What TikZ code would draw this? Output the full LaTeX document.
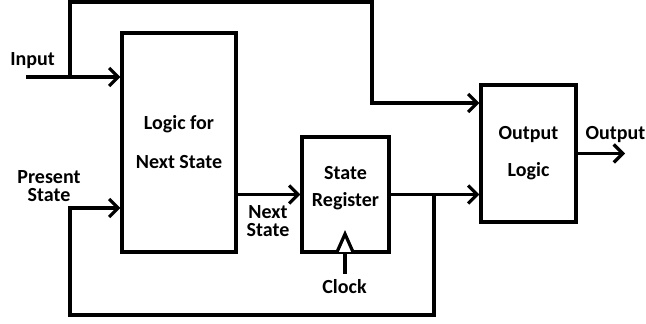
\documentclass[tikz,border=0pt]{standalone}
\usepackage{fontspec}
\setmainfont{Carlito}
\usetikzlibrary{arrows.meta}
\tikzset{
  blockbox/.style={draw, align=center, font=\bfseries, inner sep=0pt},
  tag/.style={font=\bfseries, align=center, inner sep=0pt}
}
\begin{document}
\begin{tikzpicture}[x=0.5pt,y=-0.5pt,line width=1.6pt,>={Straight Barb[length=4.5pt,width=9pt]}]
  \useasboundingbox (0,0) rectangle (646,324);
  \node[blockbox, minimum width=57pt, minimum height=109.5pt] (logic) at (179,142.5) {Logic for\\[7.5pt]Next State};
  \node[blockbox, minimum width=43.5pt, minimum height=57.5pt] (reg) at (345.5,194.5) {};
  \node[tag] (regtext) at (345.5,188) {State\\[1.5pt]Register};
  \node[blockbox, minimum width=47.5pt, minimum height=68.5pt] (outlogic) at (528.5,153.5) {Output\\[6.5pt]Logic};
  \node[tag] (inlabel) at (32.5,61) {Input};
  \node[tag] (pslabel) at (49,186) {Present\\[-3pt]State};
  \node[tag] (nslabel) at (268,221) {Next\\[-3pt]State};
  \node[tag] (outlabel) at (615.5,135) {Output};
  \node[tag] (clock) at (344.5,287) {Clock};
  \coordinate (in) at (26,77);
  \coordinate (split) at (70,77);
  \coordinate (top) at (372,2);
  \coordinate (drop) at (372,103);
  \coordinate (tap) at (434,194.5);
  \coordinate (bottom) at (70,315);
  \coordinate (back) at (70,208);
  \coordinate (out) at (625,153.5);
  \draw[->] (in) -- (logic.west |- in);
  \draw[->] (split) -- (split |- top) -- (top) -- (drop) -- (outlogic.west |- drop);
  \draw[->] (tap) -- (tap |- bottom) -- (bottom) -- (back) -- (logic.west |- back);
  \draw[->] (logic.east |- reg.west) -- (reg.west);
  \draw[->] (reg.east) -- (outlogic.west |- reg.east);
  \draw[->] (outlogic.east) -- (out);
  \draw[fill=white] (337,252) -- (345,234) -- (353,252);
  \draw (345,253) -- (345,274);
\end{tikzpicture}
\end{document}
